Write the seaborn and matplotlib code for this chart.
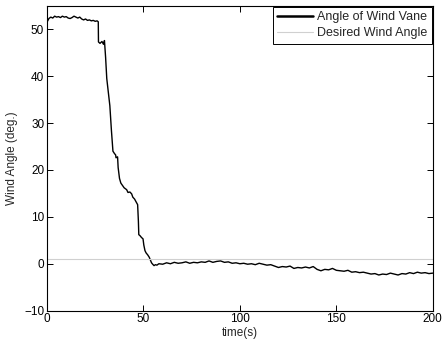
import pandas as pd
import matplotlib
matplotlib.use("Agg")
import matplotlib.pyplot as plt
import seaborn as sns

# wind vane angle
time_head = [0, 1, 2, 3, 4, 5, 6, 7, 8, 9, 10, 11, 12, 13, 14, 15, 16, 17, 18, 19,
             20, 21, 22, 23, 24, 25, 26, 26.6, 26.7, 27.5, 28.5, 29.3, 29.8, 30.4,
             31.0, 31.8, 32.6, 33.4, 34.2, 35.0, 35.6, 35.8, 36.6, 36.9, 37.6, 38.3,
             39.0, 40.0, 41.3, 42.0, 43.0, 43.9, 44.5, 45.4, 46.2, 47.0, 47.4, 47.6,
             48.2, 49.0, 49.8, 50.2, 50.8, 51.4, 52.2, 53.0, 53.6, 54.2, 54.8, 55.5,
             56.2, 57.0]
angle_head = [51.5, 52.3, 52.6, 52.4, 52.8, 52.6, 52.7, 52.5, 52.8, 52.6, 52.7, 52.4,
              52.3, 52.5, 52.8, 52.6, 52.4, 52.6, 52.2, 52.0, 52.2, 51.9, 52.0, 51.8,
              51.9, 51.7, 51.8, 51.6, 47.3, 47.0, 47.4, 46.8, 47.6, 44.0, 39.5, 36.5,
              33.7, 28.5, 24.0, 23.5, 23.2, 22.6, 22.8, 20.5, 18.2, 17.2, 16.8, 16.2,
              15.8, 15.2, 15.3, 14.9, 14.2, 13.8, 13.2, 12.6, 9.0, 6.2, 6.0, 5.6, 5.3,
              4.0, 2.8, 2.3, 1.9, 1.4, 0.8, 0.2, -0.1, -0.4, -0.2, -0.3]
time_tail = list(range(58, 201, 2))
angle_tail = [0.0, -0.1, 0.2, 0.0, 0.3, 0.1, 0.2, 0.4, 0.1, 0.3, 0.2, 0.4, 0.3, 0.6,
              0.3, 0.5, 0.6, 0.3, 0.4, 0.1, 0.2, 0.0, 0.1, -0.1, 0.0, -0.2, 0.1, -0.1,
              -0.3, -0.2, -0.5, -0.8, -0.6, -0.7, -0.5, -1.0, -0.8, -0.9, -0.7, -0.9,
              -0.6, -1.2, -1.5, -1.2, -1.3, -1.0, -1.4, -1.5, -1.6, -1.4, -1.8, -1.7,
              -1.9, -1.8, -2.0, -2.2, -2.1, -2.4, -2.2, -2.3, -2.0, -2.2, -2.4, -2.1,
              -2.2, -1.9, -2.1, -1.8, -2.0, -1.9, -2.1, -2.0]

time_desired = [0, 200]
angle_desired = [1, 1]

vane = pd.DataFrame({"time": time_head + time_tail, "angle": angle_head + angle_tail})
desired = pd.DataFrame({"time": time_desired, "angle": angle_desired})

sns.set_style("ticks")
plt.rcParams['font.family'] = ['Liberation Sans', 'DejaVu Sans']

fig = plt.figure(figsize=(4.43, 3.44), dpi=100)
ax = fig.add_axes([0.106, 0.097, 0.871, 0.886])

sns.lineplot(data=vane, x="time", y="angle", ax=ax, color="black", linewidth=1.0,
             sort=False, estimator=None, label="Angle of Wind Vane")
sns.lineplot(data=desired, x="time", y="angle", ax=ax, color="#d0d0d0", linewidth=0.8,
             sort=False, estimator=None, label="Desired Wind Angle")

ax.set_xlim(0, 200)
ax.set_ylim(-10, 55)
ax.set_xticks([0, 50, 100, 150, 200])
ax.set_yticks([-10, 0, 10, 20, 30, 40, 50])
ax.set_xlabel("time(s)", fontsize=8.5, labelpad=1)
ax.set_ylabel("Wind Angle (deg.)", fontsize=8.5, labelpad=4)
ax.tick_params(direction="in", top=True, right=True, length=4, width=0.7,
               labelsize=8.5, colors="black", pad=2)
for s in ax.spines.values():
    s.set_visible(True)
    s.set_linewidth(0.8)
    s.set_color("black")

leg = ax.legend(loc="upper right", fontsize=9, frameon=True, fancybox=False,
                framealpha=1, edgecolor="black", borderaxespad=0.1,
                handlelength=2.9, handletextpad=0.3, borderpad=0.35,
                labelspacing=0.3)
leg.get_frame().set_linewidth(0.7)
leg.get_lines()[0].set_linewidth(1.8)

fig.savefig("out.png", dpi=100)
